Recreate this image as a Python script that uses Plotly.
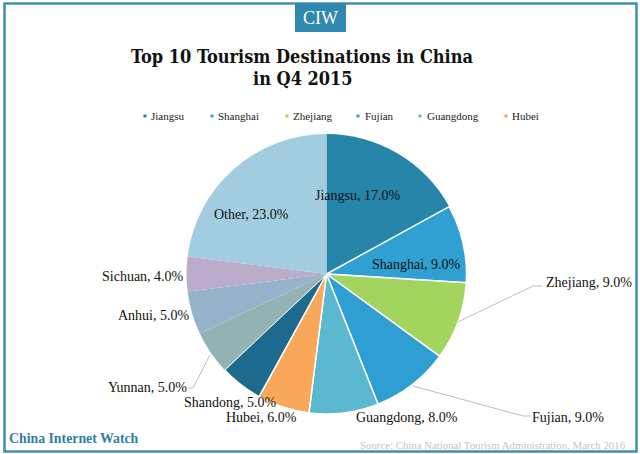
import plotly.graph_objects as go

W = 640
H = 454

def px(x):
    return x / W

def py(y):
    return 1 - y / H

names = ["Jiangsu", "Shanghai", "Zhejiang", "Fujian", "Guangdong", "Hubei",
         "Shandong", "Yunnan", "Anhui", "Sichuan", "Other"]
values = [17, 9, 9, 9, 8, 6, 5, 5, 5, 4, 23]
colors = ["#2685A8", "#30A0D2", "#A2D45E", "#2F9FD3", "#5BB8D0", "#F9A75A",
          "#1D6A8E", "#93B3B5", "#96B3CC", "#BBACCB", "#A2CDE0"]
# the muted slices at the left have no white edge in the original
edge_widths = [0, 1.5, 1.5, 1.5, 1.5, 1.5, 1.5, 0, 0, 0, 0]

# where each data label sits, in picture pixels (center x, center y)
label_pos = {
    "Jiangsu": (358, 195), "Shanghai": (416, 264), "Zhejiang": (589, 282),
    "Fujian": (568, 417), "Guangdong": (406.5, 417), "Hubei": (261, 417),
    "Shandong": (230, 402), "Yunnan": (147.5, 387), "Anhui": (153.5, 315),
    "Sichuan": (143, 276), "Other": (251, 214),
}

# legend: marker x, text left x
legend_pos = [("Jiangsu", 145, 149), ("Shanghai", 212, 216), ("Zhejiang", 287, 291),
              ("Fujian", 358, 363), ("Guangdong", 420, 425), ("Hubei", 506, 510)]

fig = go.Figure()

fig.add_trace(go.Pie(
    labels=names,
    values=values,
    sort=False,
    direction="clockwise",
    rotation=0,
    textinfo="none",
    hoverinfo="label+percent",
    showlegend=False,
    marker=dict(colors=colors, line=dict(color="white", width=edge_widths)),
    domain=dict(x=[px(186.5), px(466.5)], y=[py(414), py(134)]),
))

annotations = []
for i, name in enumerate(names):
    x, y = label_pos[name]
    annotations.append(dict(
        x=px(x), y=py(y), xref="paper", yref="paper", showarrow=False,
        text="%s, %.1f%%" % (name, values[i]),
        font=dict(family="Liberation Serif", size=14, color="#111111"),
        xanchor="center", yanchor="middle",
    ))

shapes = []
for name, mx, tx in legend_pos:
    c = colors[names.index(name)]
    shapes.append(dict(type="rect", xref="paper", yref="paper", x0=px(mx - 1.5), x1=px(mx + 1.5),
                       y0=py(117.5), y1=py(114.5), fillcolor=c, line_width=0))
    annotations.append(dict(
        x=px(tx), y=py(116), xref="paper", yref="paper", showarrow=False, text=name,
        font=dict(family="Liberation Serif", size=11, color="#222222"),
        xanchor="left", yanchor="middle",
    ))

# leader lines
for pts in [[(458, 322), (533, 286), (542, 286)],
            [(413, 386), (523, 416), (531, 416)],
            [(210, 355), (193, 388), (188, 388)]]:
    path = "M " + " L ".join("%f,%f" % (px(a), py(b)) for a, b in pts)
    shapes.append(dict(type="path", xref="paper", yref="paper", path=path,
                       line=dict(color="#BDBDBD", width=1)))

# frame and logo
shapes.append(dict(type="rect", xref="paper", yref="paper", x0=px(4.5), x1=px(636.5),
                   y0=py(451.5), y1=py(3.5), line=dict(color="#3F8FB0", width=2.5)))
shapes.append(dict(type="rect", xref="paper", yref="paper", x0=px(295), x1=px(346),
                   y0=py(32), y1=py(3), fillcolor="#2F88AE", line_width=0))

annotations += [
    dict(x=px(320.5), y=py(18), xref="paper", yref="paper", showarrow=False, text="CIW",
         xanchor="center", yanchor="middle",
         font=dict(family="Liberation Serif", size=18, color="white")),
    dict(x=px(302), y=py(57), xref="paper", yref="paper", showarrow=False,
         text="Top 10 Tourism Destinations in China", xanchor="center", yanchor="middle",
         font=dict(family="DejaVu Serif Condensed", size=18, color="#111111", weight="bold")),
    dict(x=px(303), y=py(78), xref="paper", yref="paper", showarrow=False, text="in Q4 2015",
         xanchor="center", yanchor="middle",
         font=dict(family="DejaVu Serif Condensed", size=18, color="#111111", weight="bold")),
    dict(x=px(7), y=py(438.5), xref="paper", yref="paper", showarrow=False,
         xanchor="left", yanchor="middle",
         text="China Internet Watch",
         font=dict(family="Liberation Serif", size=13.8, color="#2F7FA3", weight="bold")),
    dict(x=px(628), y=py(445), xref="paper", yref="paper", showarrow=False,
         xanchor="right", yanchor="middle",
         text="Source: China National Tourism Administration, March 2016",
         font=dict(family="Liberation Serif", size=10.8, color="#C4C4C4")),
]

fig.update_layout(
    autosize=False,
    width=W,
    height=H,
    margin=dict(l=0, r=0, t=0, b=0),
    paper_bgcolor="white",
    shapes=shapes,
    annotations=annotations,
)

# page has a default body margin that would push the figure off the window
fig.write_html("out.html", config=dict(displayModeBar=False),
               post_script="document.body.style.margin='0';document.body.style.overflow='hidden';")
